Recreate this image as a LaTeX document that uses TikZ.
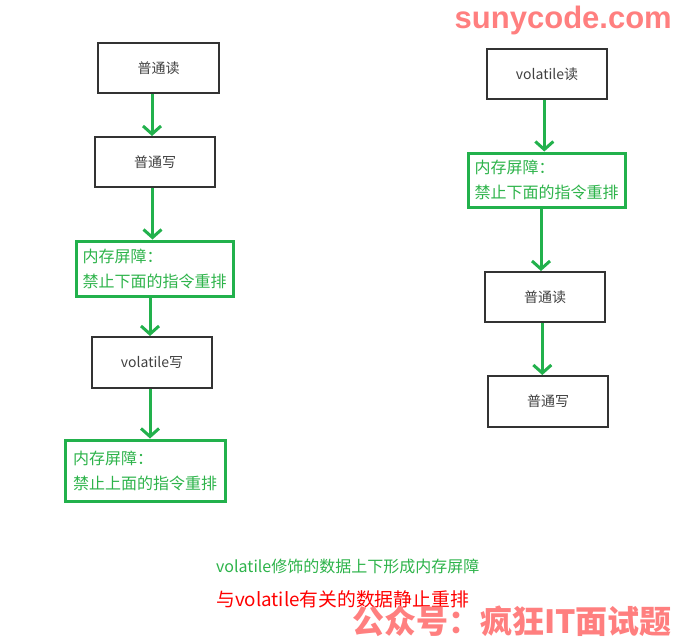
\documentclass[tikz,border=0pt]{standalone}
\usepackage{fontspec}
\setmainfont{Noto Sans CJK SC}
\newfontfamily\wmfont{Liberation Sans}
\usetikzlibrary{arrows.meta}
\definecolor{gline}{HTML}{22B14C}
\definecolor{gtext}{HTML}{2DB34A}
\definecolor{boxline}{HTML}{333333}
\definecolor{boxtext}{HTML}{404040}
\definecolor{wm}{HTML}{FF7F7F}
\tikzset{
  plainbox/.style={draw=boxline, line width=2pt, rectangle, text=boxtext,
    font=\fontsize{14}{16}\selectfont, inner sep=0pt},
  barrierbox/.style={draw=gline, line width=3pt, rectangle, text=gtext,
    font=\fontsize{16}{25}\selectfont, align=left, inner sep=0pt},
  arr/.style={draw=gline, line width=3pt, -{Straight Barb[length=8pt,width=18pt,line width=3pt]}},
}
\begin{document}
\begin{tikzpicture}[x=1pt,y=-1pt]
\useasboundingbox (0,0) rectangle (674,638);
% left column
\node[plainbox, minimum width=121pt, minimum height=50pt] (l1) at (158.5,68) {普通读};
\node[plainbox, minimum width=120pt, minimum height=50pt] (l2) at (155,162) {普通写};
\node[barrierbox, minimum width=157pt, minimum height=55pt] (l3) at (154.5,268.5) {内存屏障：\\禁止下面的指令重排};
\node[plainbox, minimum width=120pt, minimum height=51pt] (l4) at (152,362.5) {volatile写};
\node[barrierbox, minimum width=160pt, minimum height=61pt] (l5) at (145,470.5) {内存屏障：\\禁止上面的指令重排};
\draw[arr] (l1.south -| 152,0) -- (l2.north -| 152,0);
\draw[arr] (l2.south -| 152.5,0) -- (l3.north -| 152.5,0);
\draw[arr] (l3.south -| 150,0) -- (l4.north -| 150,0);
\draw[arr] (l4.south -| 150,0) -- (l5.north -| 150,0);
% right column
\node[plainbox, minimum width=120pt, minimum height=50pt] (r1) at (547,74) {volatile读};
\node[barrierbox, minimum width=157pt, minimum height=54pt] (r2) at (546.5,180) {内存屏障：\\禁止下面的指令重排};
\node[plainbox, minimum width=120pt, minimum height=50pt] (r3) at (545,297) {普通读};
\node[plainbox, minimum width=120pt, minimum height=51pt] (r4) at (548,401.5) {普通写};
\draw[arr] (r1.south -| 544.3,0) -- (r2.north -| 544.3,0);
\draw[arr] (r2.south -| 541,0) -- (r3.north -| 541,0);
\draw[arr] (r3.south -| 542.3,0) -- (r4.north -| 542.3,0);
% captions
\node[anchor=west, text=gtext, inner sep=0pt, font=\fontsize{16}{18}\selectfont] (c1) at (216,566.5) {volatile修饰的数据上下形成内存屏障};
\node[anchor=west, text=red, inner sep=0pt, font=\fontsize{18.8}{20}\selectfont] (c2) at (216,599) {与volatile有关的数据静止重排};
% watermarks
\node[anchor=east, text=wm, inner sep=0pt, font=\wmfont\bfseries\fontsize{31}{33}\selectfont] (w1) at (672,20) {sunycode.com};
\node[anchor=east, text=wm, inner sep=0pt, font=\bfseries\fontsize{32}{34}\selectfont] (w2) at (672,621) {公众号：疯狂IT面试题};
\end{tikzpicture}
\end{document}
